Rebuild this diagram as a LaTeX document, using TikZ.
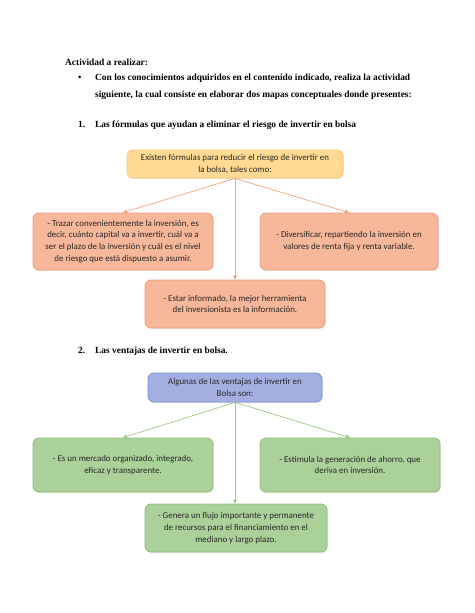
\documentclass[tikz,border=0pt]{standalone}
\usepackage{fontspec}
\setmainfont{Liberation Serif}
\newfontfamily\boxfont{Carlito}
\usetikzlibrary{arrows.meta,shadows}
\definecolor{ylfill}{HTML}{FFDA93}
\definecolor{yldraw}{HTML}{F5C577}
\definecolor{orfill}{HTML}{F6B79A}
\definecolor{ordraw}{HTML}{EFA07C}
\definecolor{orline}{HTML}{F2A77E}
\definecolor{blfill}{HTML}{A3AFE0}
\definecolor{bldraw}{HTML}{7D8FD0}
\definecolor{grfill}{HTML}{ABD19A}
\definecolor{grdraw}{HTML}{8CC07A}
\definecolor{grline}{HTML}{9CCB86}
\definecolor{boxtext}{HTML}{262626}
\tikzset{
  cbox/.style={draw, line width=0.8pt, rounded corners=6pt, inner sep=0pt,
    align=center, text=boxtext, font=\boxfont\fontsize{8.9}{11.8}\selectfont,
    drop shadow={opacity=0.18, shadow xshift=0.8pt, shadow yshift=-1pt}},
  ybox/.style={cbox, fill=ylfill, draw=yldraw},
  obox/.style={cbox, fill=orfill, draw=ordraw},
  bbox/.style={cbox, fill=blfill, draw=bldraw},
  gbox/.style={cbox, fill=grfill, draw=grdraw},
  conn/.style={line width=0.7pt, -{Triangle[length=4pt,width=4pt]}},
  body/.style={font=\bfseries\fontsize{9.4}{11}\selectfont, anchor=base west, inner sep=0pt}
}
\begin{document}
\begin{tikzpicture}[x=1pt,y=-1pt]
\useasboundingbox[fill=white] (0,0) rectangle (474,613);
% heading text
\node[body] (t1) at (65,65) {Actividad a realizar:};
\node[body] (bul) at (78,80) {\textbullet};
\node[body] (t2) at (95,80) {Con los conocimientos adquiridos en el contenido indicado, realiza la actividad};
\node[body] (t3) at (95,97) {siguiente, la cual consiste en elaborar dos mapas conceptuales donde presentes:};
\node[body] (n1) at (78,127) {1.};
\node[body] (t4) at (95,127) {Las fórmulas que ayudan a eliminar el riesgo de invertir en bolsa};
% map 1
\node[ybox, minimum width=216, minimum height=28] (a) at (235,164) {Existen fórmulas para reducir el riesgo de invertir en\\la bolsa, tales como:};
\node[obox, minimum width=180, minimum height=57] (b) at (123,241.5) {- Trazar convenientemente la inversión, es\\decir, cuánto capital va a invertir, cuál va a\\ser el plazo de la inversión y cuál es el nivel\\de riesgo que está dispuesto a asumir.};
\node[obox, minimum width=178, minimum height=57] (c) at (349,241.5) {- Diversificar, repartiendo la inversión en\\valores de renta fija y renta variable.};
\node[obox, minimum width=180, minimum height=48] (d) at (235,304) {- Estar informado, la mejor herramienta\\del inversionista es la información.};
\draw[conn, orline] (a.south) -- (b.north);
\draw[conn, orline] (a.south) -- (c.north);
\draw[conn, orline] (a.south) -- (d.north);
% heading 2
\node[body] (n2) at (78,353) {2.};
\node[body] (t5) at (95,353) {Las ventajas de invertir en bolsa.};
% map 2
\node[bbox, minimum width=174, minimum height=29] (e) at (235,387.5) {Algunas de las ventajas de invertir en\\Bolsa son:};
\node[gbox, minimum width=180, minimum height=54] (f) at (123,465) {- Es un mercado organizado, integrado,\\eficaz y transparente.};
\node[gbox, minimum width=180, minimum height=54] (g) at (350,465) {- Estimula la generación de ahorro, que\\deriva en inversión.};
\node[gbox, minimum width=182, minimum height=48] (h) at (236,528) {- Genera un flujo importante y permanente\\de recursos para el financiamiento en el\\mediano y largo plazo.};
\draw[conn, grline] (e.south) -- (f.north);
\draw[conn, grline] (e.south) -- (g.north);
\draw[conn, grline] (e.south) -- (e.south |- h.north);
\end{tikzpicture}
\end{document}
